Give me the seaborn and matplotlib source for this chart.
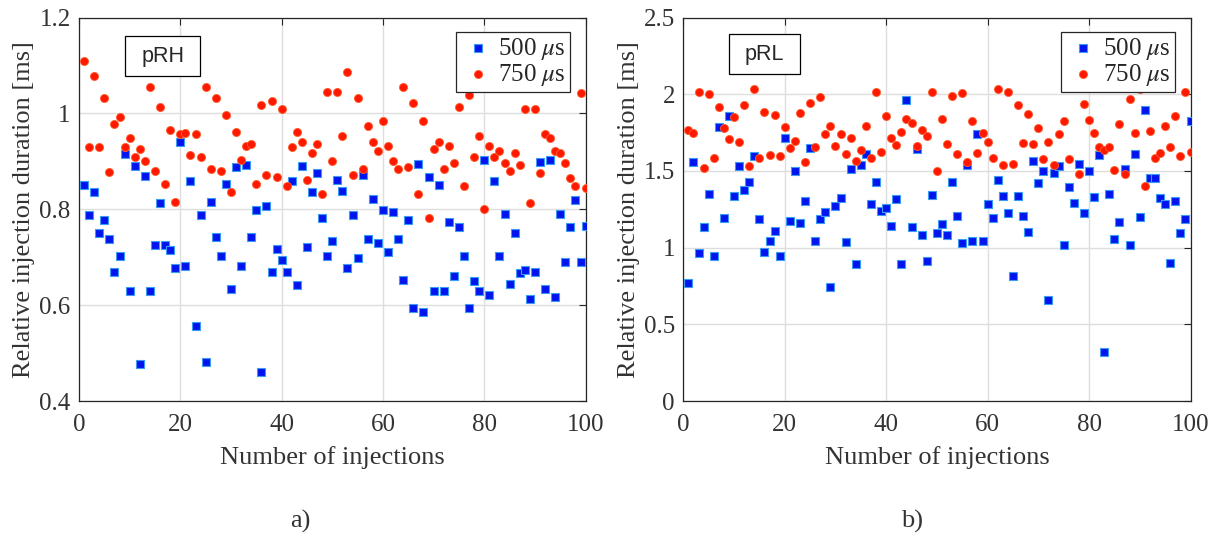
import matplotlib
matplotlib.use("Agg")
import matplotlib.pyplot as plt
import seaborn as sns
import pandas as pd
from matplotlib.patches import Rectangle

# ---- data -----------------------------------------------------------------
injections = list(range(1, 101))

prh_500 = [0.850, 0.787, 0.835, 0.750, 0.778, 0.738, 0.670, 0.702, 0.916, 0.629,
           0.891, 0.477, 0.870, 0.629, 0.726, 0.814, 0.726, 0.714, 0.678, 0.940,
           0.682, 0.859, 0.557, 0.787, 0.481, 0.816, 0.742, 0.702, 0.852, 0.633,
           0.888, 0.682, 0.892, 0.742, 0.798, 0.461, 0.806, 0.670, 0.718, 0.694,
           0.670, 0.859, 0.642, 0.891, 0.722, 0.835, 0.875, 0.782, 0.702, 0.733,
           0.862, 0.839, 0.678, 0.787, 0.698, 0.871, 0.737, 0.822, 0.729, 0.798,
           0.710, 0.794, 0.738, 0.653, 0.778, 0.593, 0.895, 0.585, 0.867, 0.629,
           0.851, 0.629, 0.774, 0.661, 0.762, 0.702, 0.594, 0.651, 0.629, 0.903,
           0.621, 0.859, 0.702, 0.790, 0.645, 0.750, 0.666, 0.673, 0.613, 0.670,
           0.898, 0.633, 0.903, 0.617, 0.790, 0.689, 0.762, 0.820, 0.689, 0.766]

prh_750 = [1.110, 0.929, 1.077, 0.929, 1.033, 0.877, 0.977, 0.993, 0.929, 0.949,
           0.909, 0.925, 0.901, 1.054, 0.880, 1.013, 0.852, 0.965, 0.816, 0.957,
           0.960, 0.913, 0.957, 0.909, 1.054, 0.884, 1.033, 0.880, 0.997, 0.836,
           0.961, 0.903, 0.932, 0.936, 0.852, 1.017, 0.872, 1.025, 0.868, 1.009,
           0.848, 0.929, 0.961, 0.941, 0.860, 0.917, 0.936, 0.832, 1.045, 0.901,
           1.045, 0.953, 1.086, 0.872, 1.033, 0.884, 0.973, 0.941, 0.921, 0.985,
           0.932, 0.901, 0.884, 1.054, 0.888, 1.021, 0.832, 0.985, 0.781, 0.925,
           0.941, 0.884, 0.932, 0.897, 1.013, 0.848, 1.038, 0.909, 0.953, 0.800,
           0.932, 0.909, 0.921, 0.897, 0.880, 0.917, 0.892, 1.009, 0.812, 1.009,
           0.876, 0.957, 0.949, 0.921, 0.917, 0.897, 0.865, 0.848, 1.042, 0.844]

prl_500 = [0.770, 1.559, 0.962, 1.137, 1.347, 0.947, 1.784, 1.191, 1.857, 1.339,
           1.533, 1.377, 1.429, 1.596, 1.189, 0.969, 1.045, 1.109, 0.943, 1.712,
           1.176, 1.501, 1.163, 1.306, 1.650, 1.040, 1.189, 1.230, 0.744, 1.272,
           1.326, 1.038, 1.514, 0.893, 1.537, 1.613, 1.287, 1.429, 1.241, 1.261,
           1.144, 1.319, 0.893, 1.963, 1.133, 1.641, 1.079, 0.910, 1.345, 1.096,
           1.155, 1.079, 1.429, 1.204, 1.032, 1.540, 1.045, 1.743, 1.040, 1.287,
           1.196, 1.442, 1.336, 1.228, 0.818, 1.336, 1.204, 1.099, 1.563, 1.423,
           1.501, 0.658, 1.488, 1.533, 1.020, 1.393, 1.293, 1.548, 1.224, 1.501,
           1.328, 1.602, 0.318, 1.352, 1.057, 1.166, 1.511, 1.019, 1.613, 1.198,
           1.894, 1.451, 1.455, 1.321, 1.287, 0.900, 1.306, 1.092, 1.185, 1.827]

prl_750 = [1.764, 1.747, 2.015, 1.522, 2.002, 1.585, 1.918, 1.777, 1.708, 1.853,
           1.687, 1.929, 1.529, 2.035, 1.585, 1.885, 1.602, 1.866, 1.596, 1.784,
           1.650, 1.697, 1.875, 1.559, 1.942, 1.658, 1.983, 1.741, 1.790, 1.663,
           1.738, 1.607, 1.717, 1.563, 1.639, 1.792, 1.581, 2.015, 1.626, 1.855,
           1.712, 1.667, 1.756, 1.838, 1.810, 1.663, 1.767, 1.725, 2.015, 1.501,
           1.838, 1.676, 1.989, 1.609, 2.011, 1.555, 1.827, 1.615, 1.747, 1.687,
           1.587, 2.037, 1.537, 2.015, 1.546, 1.929, 1.680, 1.870, 1.674, 1.777,
           1.576, 1.691, 1.537, 1.743, 1.827, 1.576, 2.040, 1.479, 1.937, 1.831,
           1.745, 1.658, 1.635, 1.658, 1.507, 1.803, 1.477, 1.970, 1.745, 2.037,
           1.401, 1.758, 1.585, 1.615, 1.795, 1.658, 1.855, 1.594, 2.013, 1.626]

series_labels = [r"500 $\mu$s", r"750 $\mu$s"]
x_ticks = [0, 20, 40, 60, 80, 100]
prh_yticks = [0.4, 0.6, 0.8, 1.0, 1.2]
prh_ylabels = ["0.4", "0.6", "0.8", "1", "1.2"]
prl_yticks = [0, 0.5, 1.0, 1.5, 2.0, 2.5]
prl_ylabels = ["0", "0.5", "1", "1.5", "2", "2.5"]

# ---- style ----------------------------------------------------------------
sns.set_style("white")
plt.rcParams["font.family"] = ["Liberation Serif", "DejaVu Serif"]
plt.rcParams["mathtext.fontset"] = "stix"

W, H = 1218, 538
fig = plt.figure(figsize=(W / 100, H / 100), dpi=100)


def px_axes(x0, x1, y0, y1):
    return fig.add_axes([x0 / W, 1 - y1 / H, (x1 - x0) / W, (y1 - y0) / H])


BLUE, BLUE_EDGE = "#0014ee", "#3c9cf4"
RED, RED_EDGE = "#ff1800", "#ff6030"
DARK = "#262626"
TEXT = "#333333"


def draw_panel(ax, blue, red, yticks, ylabels, tag, tag_box):
    df_b = pd.DataFrame({"n": injections, "t": blue})
    df_r = pd.DataFrame({"n": injections, "t": red})
    sns.scatterplot(data=df_b, x="n", y="t", ax=ax, marker="s", s=28,
                    color=BLUE, edgecolor=BLUE_EDGE, linewidth=0.8,
                    label=series_labels[0], zorder=3)
    sns.scatterplot(data=df_r, x="n", y="t", ax=ax, marker="o", s=34,
                    color=RED, edgecolor=RED_EDGE, linewidth=0.6,
                    label=series_labels[1], zorder=3)
    ax.set_xlim(0, 100)
    ax.set_ylim(yticks[0], yticks[-1])
    ax.set_xticks(x_ticks)
    ax.set_xticklabels([str(v) for v in x_ticks])
    ax.set_yticks(yticks)
    ax.set_yticklabels(ylabels)
    ax.grid(True, color="#dedede", linewidth=1.0)
    ax.set_axisbelow(True)
    for sp in ax.spines.values():
        sp.set_color(DARK)
        sp.set_linewidth(0.9)
    ax.tick_params(direction="in", top=True, right=True, length=5, width=0.8,
                   colors=DARK, labelsize=18, labelcolor=TEXT)
    ax.tick_params(axis="x", pad=9.5)
    ax.tick_params(axis="y", pad=6)
    ax.set_xlabel("Number of injections", fontsize=19, color=TEXT, labelpad=7)
    ax.set_ylabel("Relative injection duration [ms]", fontsize=19,
                  color=TEXT, labelpad=3)

    leg = ax.legend(loc="upper right", bbox_to_anchor=(0.969, 0.962),
                    borderaxespad=0, fontsize=18, frameon=True, fancybox=False,
                    framealpha=1.0, handlelength=1.45, handletextpad=0.1,
                    borderpad=0.15, labelspacing=0.0, markerscale=1.0)
    leg.get_frame().set_edgecolor(DARK)
    leg.get_frame().set_linewidth(0.9)
    leg.set_zorder(10)

    bx0, bx1, by0, by1 = tag_box
    ax.add_patch(Rectangle((bx0, by0), bx1 - bx0, by1 - by0,
                           transform=ax.transAxes, fill=True, facecolor="white",
                           edgecolor="black", linewidth=0.9, zorder=4))
    ax.text((bx0 + bx1) / 2, (by0 + by1) / 2, tag, transform=ax.transAxes,
            ha="center", va="center", fontsize=15.5,
            family=["Liberation Sans", "DejaVu Sans"], zorder=5)


ax_a = px_axes(79, 585.6, 17.5, 401)
ax_b = px_axes(683.3, 1190.5, 17.5, 401)

draw_panel(ax_a, prh_500, prh_750, prh_yticks, prh_ylabels, "pRH",
           (0.091, 0.239, 0.847, 0.952))
draw_panel(ax_b, prl_500, prl_750, prl_yticks, prl_ylabels, "pRL",
           (0.090, 0.230, 0.852, 0.957))

fig.text(300 / W, 1 - 521 / H, "a)", ha="center", va="center", fontsize=19,
         color=TEXT)
fig.text(912 / W, 1 - 521 / H, "b)", ha="center", va="center", fontsize=19,
         color=TEXT)

fig.savefig("out.png", dpi=100)
